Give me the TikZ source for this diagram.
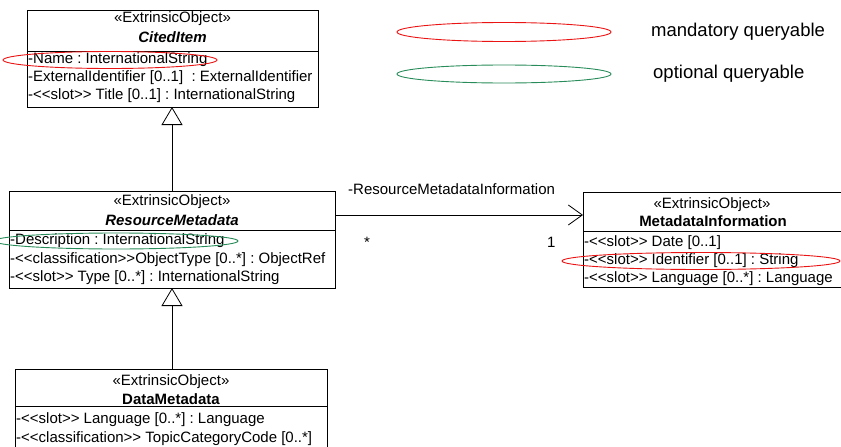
\documentclass[tikz,border=0pt]{standalone}
\usepackage{fontspec}
\setmainfont{Liberation Sans}[Ligatures=TeXOff]
\usetikzlibrary{arrows.meta}
\frenchspacing
\begin{document}
\begin{tikzpicture}[x=1pt,y=-1pt,
  box/.style={draw=black,line width=0.8pt},
  attr/.style={anchor=west,inner sep=0pt,font=\fontsize{15}{18}\selectfont},
  hdr/.style={anchor=center,inner sep=0pt,font=\fontsize{15}{18}\selectfont},
  legtxt/.style={anchor=west,inner sep=0pt,font=\fontsize{18.5}{22}\selectfont},
  mand/.style={draw={rgb,255:red,235;green,20;blue,20},line width=0.9pt},
  opt/.style={draw={rgb,255:red,40;green,140;blue,90},line width=0.9pt},
  gen/.style={-{Triangle[open,length=18pt,width=21pt]},line width=0.8pt},
  nav/.style={-{Straight Barb[length=14pt,width=20pt,line width=0.8pt]},line width=0.8pt}
]
\useasboundingbox (0,0) rectangle (841,447);
\clip (0,0) rectangle (841,447);
\fill[white] (0,0) rectangle (841,447);

% CitedItem
\draw[box] (27,10) rectangle (318,107);
\draw[box] (27,51) -- (318,51);
\coordinate (ciB) at (172,107);
\node[hdr] (ci1) at (172.5,19) {«ExtrinsicObject»};
\node[hdr] (ci2) at (172.5,37) {\textbf{\textit{CitedItem}}};
\node[attr] (ca1) at (28,60) {-Name : InternationalString};
\node[attr] (ca2) at (28,78) {-ExternalIdentifier [0..1]\ \ : ExternalIdentifier};
\node[attr] (ca3) at (28,96) {-<<slot>> Title [0..1] : InternationalString};

% ResourceMetadata
\draw[box] (9,191) rectangle (335,288);
\draw[box] (9,230) -- (335,230);
\coordinate (rmT) at (172,191);
\coordinate (rmB) at (172,288);
\coordinate (rmR) at (335,215);
\node[hdr] (rm1) at (172,202) {«ExtrinsicObject»};
\node[hdr] (rm2) at (172,220) {\textbf{\textit{ResourceMetadata}}};
\node[attr] (ra1) at (10,241) {-Description : InternationalString};
\node[attr] (ra2) at (10,259.5) {-<<classification>>ObjectType [0..*] : ObjectRef};
\node[attr] (ra3) at (10,278) {-<<slot>> Type [0..*] : InternationalString};

% DataMetadata
\draw[box] (15,369) rectangle (327,460);
\draw[box] (15,406) -- (327,406);
\coordinate (dmT) at (172,369);
\node[hdr] (dm1) at (171,382) {«ExtrinsicObject»};
\node[hdr] (dm2) at (171,399) {\textbf{DataMetadata}};
\node[attr] (da1) at (16,420) {-<<slot>> Language [0..*] : Language};
\node[attr] (da2) at (16,438.5) {-<<classification>> TopicCategoryCode [0..*]};

% MetadataInformation
\draw[box] (583,192) rectangle (850,287);
\draw[box] (583,231) -- (850,231);
\coordinate (miL) at (583,215);
\node[hdr] (mi1) at (712,205) {«ExtrinsicObject»};
\node[hdr] (mi2) at (713,221) {\textbf{MetadataInformation}};
\node[attr] (ma1) at (584,243) {-<<slot>> Date [0..1]};
\node[attr] (ma2) at (584,260.5) {-<<slot>> Identifier [0..1] : String};
\node[attr] (ma3) at (584,279) {-<<slot>> Language [0..*] : Language};

% generalizations
\draw[gen] (rmT) -- (ciB);
\draw[gen] (dmT) -- (rmB);

% association
\draw[nav] (rmR) -- (miL);
\node[attr] (alab) at (348,189) {-ResourceMetadataInformation};
\node[attr] (astar) at (364,242) {*};
\node[attr] (aone) at (547,242) {1};

% queryable ellipses
\draw[mand] (110,60) ellipse [x radius=107,y radius=8.5];
\draw[opt] (116,241) ellipse [x radius=122,y radius=8];
\draw[mand] (701,261) ellipse [x radius=139,y radius=8.5];

% legend
\draw[mand] (504,32) ellipse [x radius=107,y radius=9.5];
\draw[opt] (504,74) ellipse [x radius=107,y radius=9];
\node[legtxt] (l1) at (651,32) {mandatory queryable};
\node[legtxt] (l2) at (653,74) {optional queryable};
\end{tikzpicture}
\end{document}
